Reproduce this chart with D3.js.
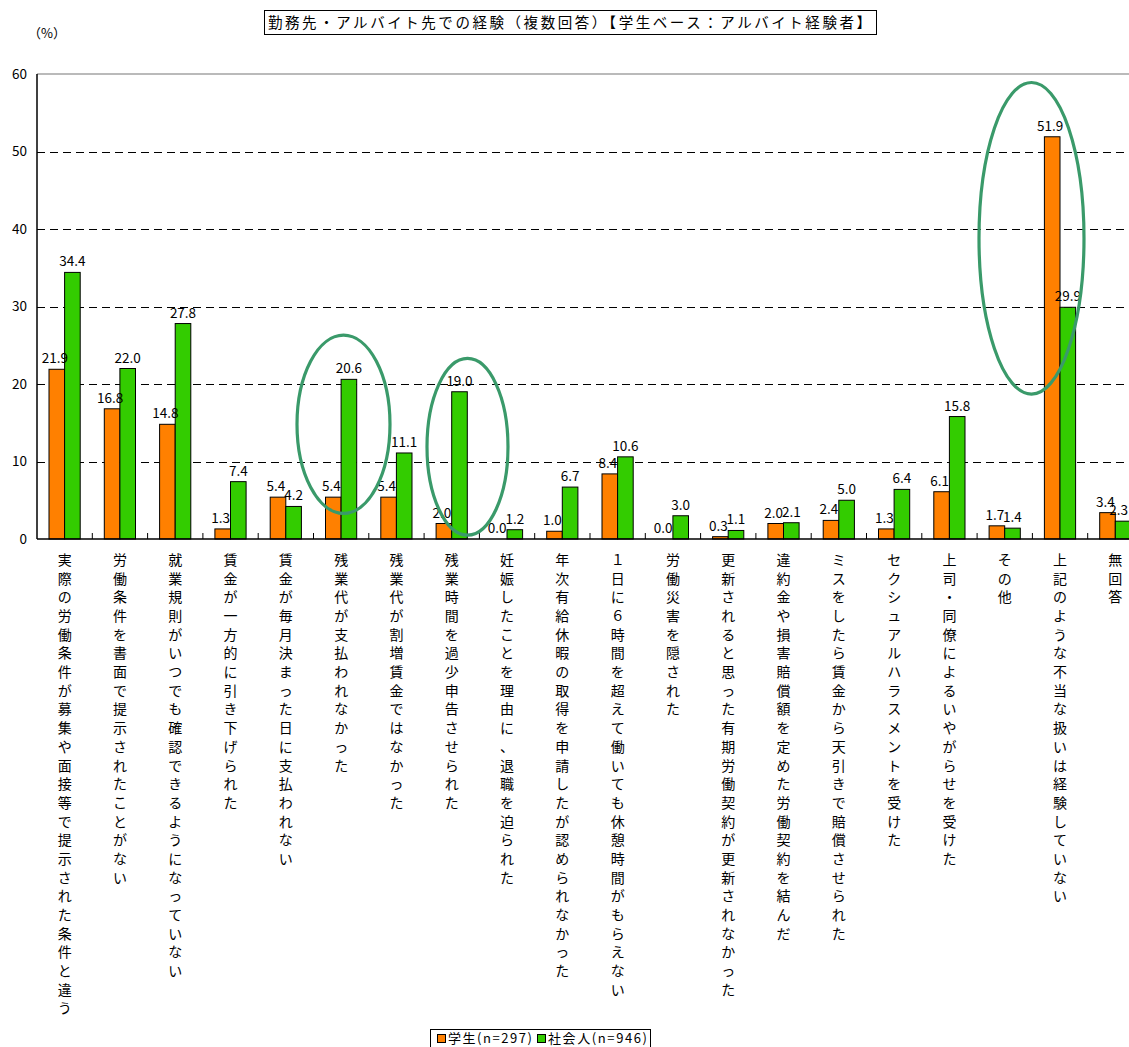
<!DOCTYPE html>
<html><head><meta charset="utf-8">
<script src="https://cdn.jsdelivr.net/npm/d3@7"></script>
<style>
html,body{margin:0;padding:0;background:#fff;overflow:hidden}
svg{display:block}
text{font-family:"Noto Sans CJK JP","Noto Sans",sans-serif;fill:#000}
</style></head>
<body>
<svg id="chart" width="1129" height="1047"></svg>
<script>
const title = "勤務先・アルバイト先での経験（複数回答）【学生ベース：アルバイト経験者】";
const unitLabel = "（%）";
const categories = [
  "実際の労働条件が募集や面接等で提示された条件と違う",
  "労働条件を書面で提示されたことがない",
  "就業規則がいつでも確認できるようになっていない",
  "賃金が一方的に引き下げられた",
  "賃金が毎月決まった日に支払われない",
  "残業代が支払われなかった",
  "残業代が割増賃金ではなかった",
  "残業時間を過少申告させられた",
  "妊娠したことを理由に、退職を迫られた",
  "年次有給休暇の取得を申請したが認められなかった",
  "１日に６時間を超えて働いても休憩時間がもらえない",
  "労働災害を隠された",
  "更新されると思った有期労働契約が更新されなかった",
  "違約金や損害賠償額を定めた労働契約を結んだ",
  "ミスをしたら賃金から天引きで賠償させられた",
  "セクシュアルハラスメントを受けた",
  "上司・同僚によるいやがらせを受けた",
  "その他",
  "上記のような不当な扱いは経験していない",
  "無回答"
];
const seriesNames = ["学生(n=297)", "社会人(n=946)"];
const students = [21.9,16.8,14.8,1.3,5.4,5.4,5.4,2.0,0.0,1.0,8.4,0.0,0.3,2.0,2.4,1.3,6.1,1.7,51.9,3.4];
const workers  = [34.4,22.0,27.8,7.4,4.2,20.6,11.1,19.0,1.2,6.7,10.6,3.0,1.1,2.1,5.0,6.4,15.8,1.4,29.9,2.3];
const yTicks = [0,10,20,30,40,50,60];
// highlighted groups: category index, centre value, vertical radius (in %)
const highlightCats = [5, 7, 18];
const highlightCenter = [14.8, 11.9, 38.8];
const highlightRadius = [11.5, 11.4, 20.1];

const colors = ["#FF8000", "#33CC00"];

const W = 1129;
const svg = d3.select("#chart");
const pLeft = 37, pTop = 74, pBottom = 539, groupW = 55.3;
const pRight = pLeft + groupW * categories.length;

const x = d3.scaleBand().domain(d3.range(categories.length)).range([pLeft, pRight]).padding(0);
const xs = d3.scaleBand().domain([0,1]).range([12, 43.2]).padding(0);
const y = d3.scaleLinear().domain([0,60]).range([pBottom, pTop]);

// plot frame
svg.append("line").attr("x1", pLeft).attr("x2", pRight).attr("y1", y(60)).attr("y2", y(60))
  .attr("stroke", "#777").attr("stroke-width", 1.2);
// grid
svg.append("g").selectAll("line").data(yTicks.filter(t => t > 0 && t < 60)).join("line")
  .attr("x1", pLeft).attr("x2", pRight)
  .attr("y1", d => Math.round(y(d)) + 0.5).attr("y2", d => Math.round(y(d)) + 0.5)
  .attr("stroke", "#000").attr("stroke-width", 1).attr("stroke-dasharray", "8,5");

// y tick labels
svg.append("g").selectAll("text").data(yTicks).join("text")
  .attr("x", 27).attr("y", d => y(d)).attr("dy", "0.35em")
  .attr("text-anchor", "end").attr("font-size", 13.5).text(d => d);

svg.append("text").attr("x", 28).attr("y", 33).attr("dy", "0.36em")
  .attr("font-size", 13).text(unitLabel);

// bars
const rows = categories.map((c, i) => ({i, vals: [students[i], workers[i]]}));
const grp = svg.append("g").selectAll("g").data(rows).join("g")
  .attr("transform", d => `translate(${x(d.i)},0)`);
grp.selectAll("rect").data(d => d.vals.map((v, k) => ({v, k}))).join("rect")
  .attr("x", d => xs(d.k)).attr("width", xs.bandwidth())
  .attr("y", d => y(d.v)).attr("height", d => y(0) - y(d.v))
  .attr("fill", d => colors[d.k]).attr("stroke", "#000").attr("stroke-width", 1);
grp.selectAll("text.val").data(d => d.vals.map((v, k) => ({v, k, i: d.i}))).join("text")
  .attr("class", "val")
  .attr("x", d => xs(d.k) + xs.bandwidth() / 2 - (d.k === 0 ? 2 : 0))
  .attr("y", d => y(d.v) - 6)
  .attr("text-anchor", "middle").attr("font-size", 13.5)
  .text(d => d.v.toFixed(1))
  .each(function(d) {
    // keep labels inside the picture's right edge
    const w = this.getComputedTextLength();
    const cx = x(d.i) + (+this.getAttribute("x"));
    const over = cx + w / 2 - (W - 1);
    if (over > 0) this.setAttribute("x", (+this.getAttribute("x")) - over);
  });

// axes
svg.append("line").attr("x1", pLeft).attr("x2", pLeft).attr("y1", y(60)).attr("y2", y(0))
  .attr("stroke", "#000").attr("stroke-width", 1.5);
svg.append("line").attr("x1", pLeft).attr("x2", pRight).attr("y1", y(0)).attr("y2", y(0))
  .attr("stroke", "#000").attr("stroke-width", 1.5);
svg.append("g").selectAll("line").data(d3.range(1, categories.length)).join("line")
  .attr("x1", d => x(d)).attr("x2", d => x(d)).attr("y1", y(0)).attr("y2", y(0) - 6)
  .attr("stroke", "#000").attr("stroke-width", 1);

// vertical category labels
const charStep = 18.68;
const lab = svg.append("g").selectAll("g").data(categories).join("g")
  .attr("transform", (d, i) => `translate(${x(i) + x.bandwidth() / 2},560)`);
lab.selectAll("text").data(d => Array.from(d)).join("text")
  .attr("x", 0).attr("y", (c, j) => j * charStep).attr("dy", "0.36em")
  .attr("text-anchor", "middle").attr("font-size", 14).text(c => c);

// highlight ellipses
const hx = [30, 43.4, -0.9];
svg.append("g").selectAll("ellipse").data(highlightCats).join("ellipse")
  .attr("cx", (c, k) => x(c) + hx[k])
  .attr("cy", (c, k) => y(highlightCenter[k]))
  .attr("rx", (c, k) => [46.5, 40.5, 52.5][k])
  .attr("ry", (c, k) => y(0) - y(highlightRadius[k]))
  .attr("fill", "none").attr("stroke", "#3A9A6A").attr("stroke-width", 3.2);

// title
svg.append("rect").attr("x", 264.5).attr("y", 10.5).attr("width", 612).attr("height", 24)
  .attr("fill", "#fff").attr("stroke", "#000").attr("stroke-width", 1);
svg.append("text").attr("x", 268).attr("y", 23).attr("dy", "0.36em")
  .attr("font-size", 14.5).attr("textLength", 603).attr("lengthAdjust", "spacing").text(title);

// legend
const lg = svg.append("g");
lg.append("rect").attr("x", 430.5).attr("y", 1029.5).attr("width", 220).attr("height", 24)
  .attr("fill", "#fff").attr("stroke", "#000").attr("stroke-width", 1);
const lx = [437, 537];
const lw = [84, 99];
seriesNames.forEach((n, k) => {
  lg.append("rect").attr("x", lx[k] + 0.5).attr("y", 1034.5).attr("width", 8).attr("height", 8)
    .attr("fill", colors[k]).attr("stroke", "#000").attr("stroke-width", 1);
  lg.append("text").attr("x", lx[k] + 11).attr("y", 1038.5).attr("dy", "0.36em")
    .attr("font-size", 13).attr("textLength", lw[k]).attr("lengthAdjust", "spacing").text(n);
});
</script>
</body></html>
